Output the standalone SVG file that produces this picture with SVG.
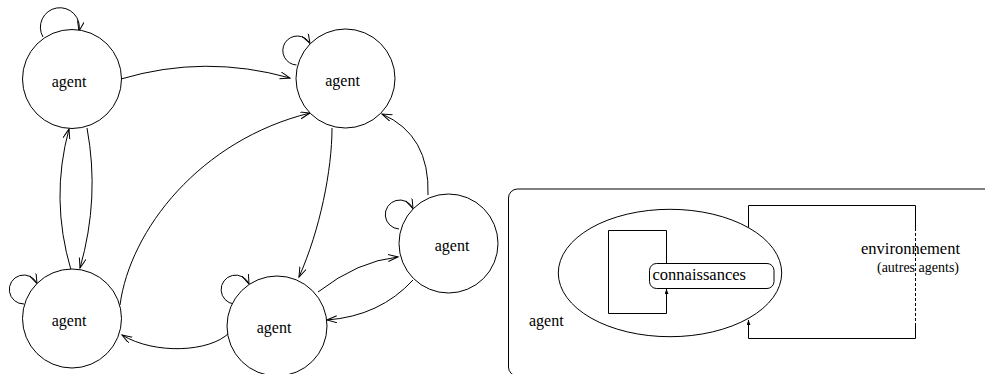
<svg xmlns="http://www.w3.org/2000/svg" width="985" height="374" viewBox="0 0 985 374">
  <style>
    .node circle { fill: #fff; stroke: #000; stroke-width: 1; }
    .lbl { font-family: "Liberation Serif", "Times New Roman", serif; font-size: 16px; fill: #000; }
    .small { font-size: 14px; }
    .edge { fill: none; stroke: #000; stroke-width: 1; marker-end: url(#open); }
    .line { fill: none; stroke: #000; stroke-width: 1; }
    .dash { stroke-dasharray: 3 2; }
  </style>
  <defs>
    <marker id="open" markerUnits="userSpaceOnUse" markerWidth="12" markerHeight="9" refX="10" refY="3.5" orient="auto">
      <path d="M0,0 L10,3.5 L0,7" fill="none" stroke="#000" stroke-width="1"/>
    </marker>
    <marker id="tip" markerUnits="userSpaceOnUse" markerWidth="7" markerHeight="5" refX="5" refY="2" orient="auto">
      <path d="M0,0 L5,2 L0,4 Z" fill="#000"/>
    </marker>
  </defs>

  <!-- agent network -->
  <g id="connectors">
    <!-- self loops -->
    <path class="edge" d="M43,37 A19.5,19.5 0 1 1 79,31"/>
    <path class="edge" d="M296.5,65 A14.5,14.5 0 1 1 310,43.5"/>
    <path class="edge" d="M24,304 A14.5,14.5 0 1 1 37,283.5"/>
    <path class="edge" d="M234,304 A14.5,14.5 0 1 1 249,284"/>
    <path class="edge" d="M399,229 A14.5,14.5 0 1 1 413,208.5"/>
    <!-- links between agents -->
    <path class="edge" d="M121,79 Q205,54 290,78"/>
    <path class="edge" d="M428,195 Q430,135 382,114"/>
    <path class="edge" d="M332,128 C332,170 320,230 299,277"/>
    <path class="edge" d="M318,292 Q358,261 398,257"/>
    <path class="edge" d="M413,280 Q380,316 327,320"/>
    <path class="edge" d="M229,333 C210,352 155,355 122,335"/>
    <path class="edge" d="M120,305 C130,230 200,140 310,113"/>
    <path class="edge" d="M87,128 Q100,198 80,268"/>
    <path class="edge" d="M71,270 Q50,199 69,129"/>
  </g>

  <g id="agent1" class="node">
    <circle cx="72" cy="79" r="49.5"/>
    <text class="lbl" x="69" y="87" text-anchor="middle">agent</text>
  </g>
  <g id="agent2" class="node">
    <circle cx="345.5" cy="78.5" r="49.5"/>
    <text class="lbl" x="342.5" y="86" text-anchor="middle">agent</text>
  </g>
  <g id="agent3" class="node">
    <circle cx="72" cy="318.5" r="49.5"/>
    <text class="lbl" x="69" y="326" text-anchor="middle">agent</text>
  </g>
  <g id="agent4" class="node">
    <circle cx="277" cy="326" r="50"/>
    <text class="lbl" x="274" y="333" text-anchor="middle">agent</text>
  </g>
  <g id="agent5" class="node">
    <circle cx="448.5" cy="243.5" r="49.5"/>
    <text class="lbl" x="452" y="251" text-anchor="middle">agent</text>
  </g>

  <!-- agent / environment schema -->
  <g id="panel">
    <rect x="508.5" y="189" width="500" height="187" rx="9" fill="none" stroke="#000" stroke-width="1"/>
  </g>
  <g id="agent-body">
    <ellipse cx="670" cy="273" rx="111.7" ry="63.7" fill="none" stroke="#000" stroke-width="1"/>
    <text class="lbl" x="529" y="326">agent</text>
  </g>
  <g id="panel-connectors">
    <!-- internal loop -->
    <path class="line" d="M666.5,263.5 V230.5 H608.5 V313.5 H666.5 V289" marker-end="url(#tip)"/>
    <!-- environment loop -->
    <path class="line" d="M748.5,227.5 V205.5 H915.5 V228"/>
    <path class="line dash" d="M915.5,228 V324"/>
    <path class="line" d="M915.5,324 V338.5 H748.5 V320" marker-end="url(#tip)"/>
  </g>
  <g id="connaissances">
    <rect x="649.5" y="263.5" width="124.5" height="25" rx="7" fill="#fff" stroke="#000" stroke-width="1"/>
    <text class="lbl" x="652.5" y="279.5" style="font-size:16.5px">connaissances</text>
  </g>
  <g id="environnement">
    <text class="lbl" x="960" y="254" text-anchor="end" style="font-size:16.5px">environnement</text>
    <text class="lbl small" x="959" y="272" text-anchor="end">(autres agents)</text>
  </g>
</svg>
